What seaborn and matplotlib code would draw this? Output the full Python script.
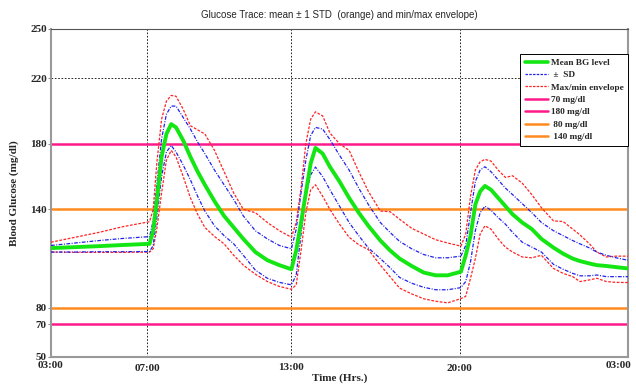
import numpy as np
import pandas as pd
import matplotlib
matplotlib.use("Agg")
import matplotlib.pyplot as plt
import seaborn as sns
from matplotlib.transforms import ScaledTranslation
from matplotlib.lines import Line2D

# ---- data ----
hours = [0, 1, 2, 3, 4.1, 4.25, 4.4, 4.6, 4.8, 5.0, 5.2, 5.5, 5.8, 6.1, 6.4, 6.8, 7.2, 7.6,
         8.0, 8.5, 9.0, 9.5, 10.0, 10.2, 10.4, 10.6, 10.8, 11.0, 11.3, 11.6, 12.0, 12.4,
         12.8, 13.2, 13.7, 14.1, 14.5, 15.0, 15.5, 16.0, 16.5, 17.05, 17.25, 17.45, 17.65,
         17.85, 18.05, 18.3, 18.6, 18.9, 19.2, 19.6, 20.0, 20.4, 20.9, 21.3, 21.7, 22.0,
         22.4, 22.7, 23.1, 23.5, 24]

mean_bg = [116.4, 117, 117.6, 118.3, 119, 127, 145, 172, 186, 192, 190, 182, 172, 163, 155,
           145, 136, 129, 122, 114, 109, 106, 103.5, 115, 132, 150, 168, 177.5, 174, 166,
           157, 147, 138, 130, 121, 115, 110, 105.5, 101.5, 99.8, 99.8, 102, 112, 124, 143,
           151, 154.3, 152, 147, 142, 137, 132, 128, 122, 116.7, 113, 110, 108.5, 107, 106,
           105.5, 104.8, 104]

sd_upper = [118, 119.5, 121, 122.3, 123.4, 133, 155, 183, 198, 203, 203, 196, 189, 181, 174,
            164, 155, 146, 136, 127, 122, 118, 116, 128, 150, 170, 185, 190, 189, 182.6,
            173, 164, 153, 143, 132, 126, 120.5, 116, 112.5, 110.5, 110.5, 111.5, 118, 138,
            157, 164, 166, 163, 158, 153, 149, 143.5, 138, 132, 127, 124, 121, 119, 116.5,
            114, 112, 110.5, 109]

sd_lower = [114, 114, 114.2, 114.2, 114.3, 118, 135, 160, 175, 179, 175, 167, 158, 148, 139,
            130, 124, 119, 112, 103, 98, 95.5, 94, 100, 125, 148, 161, 165.8, 160, 152, 142,
            132, 124, 116.5, 110, 104.5, 98.5, 95, 92.5, 91, 91, 92.3, 96, 108, 127, 138, 142,
            139.5, 135, 131, 126, 120, 117, 114, 106.5, 103.5, 101, 99.5, 99.5, 100, 99, 99, 99]

bg_max = [120, 123, 126, 129.5, 132.5, 140, 168, 195, 206, 209.5, 209, 201, 191, 188.5, 186,
          176, 163, 150, 140, 138, 132, 127, 123, 132, 153, 180, 195, 199.5, 197, 186.6, 180,
          176, 163, 151, 139, 138.6, 134, 128.5, 125, 121.5, 119.5, 117.6, 125, 148, 164,
          169, 170.5, 169.5, 164, 159.5, 160.5, 156, 149, 141, 133, 132.6, 128, 124.5, 119,
          114, 111, 111.5, 111.5]

bg_min = [114, 113.8, 113.8, 113.8, 114, 116, 128, 150, 170, 176, 172, 160, 147, 137, 129,
          123.5, 119, 112, 106, 100.5, 96, 93, 91.3, 94, 115, 138, 152, 155, 148, 140, 131,
          123, 118.5, 115.5, 106, 99, 92, 88.5, 85.5, 84, 83, 85.6, 87, 98, 110, 125, 130,
          128, 122, 117, 114, 111, 110.5, 112, 104, 101, 99, 96, 97, 98, 96, 95.5, 95.4]

thresholds = [70, 180, 80, 140]
threshold_labels = ["70 mg/dl", "180 mg/dl", " 80 mg/dl", " 140 mg/dl"]
yticks = [50, 70, 80, 140, 180, 220, 250]
xticks = [0, 4, 10, 17, 24]
xtick_labels = ["03:00", "07:00", "13:00", "20:00", "03:00"]

# ---- styling ----
sns.set_style("white")
serif = ["Liberation Serif", "DejaVu Serif"]
plt.rcParams["font.family"] = serif

GREEN = "#14e614"
BLUE = "#2222ee"
RED = "#ff2424"
PINK = "#ff1a8c"
ORANGE = "#ff8a1e"

fig = plt.figure(figsize=(6.36, 3.85), dpi=100)
ax = fig.add_axes([51 / 636, 1 - 357 / 385, 577 / 636, 328 / 385])

df = pd.DataFrame({"hours": hours, "mean": mean_bg, "sdu": sd_upper, "sdl": sd_lower,
                   "mx": bg_max, "mn": bg_min})

for col in ["mx", "mn"]:
    ln = sns.lineplot(data=df, x="hours", y=col, ax=ax, color=RED, lw=0.9, zorder=3).lines[-1]
    ln.set_dashes([2.2, 1.2])
for col in ["sdu", "sdl"]:
    ln = sns.lineplot(data=df, x="hours", y=col, ax=ax, color=BLUE, lw=0.9, zorder=3).lines[-1]
    ln.set_dashes([3, 1.2, 0.8, 1.2])
sns.lineplot(data=df, x="hours", y="mean", ax=ax, color=GREEN, lw=2.8, zorder=4)

thr_colors = [PINK, PINK, ORANGE, ORANGE]
for v, c in zip(thresholds, thr_colors):
    ax.axhline(v, color=c, lw=1.8, zorder=2)

ax.set_xlim(0, 24)
ax.set_ylim(50, 250)
ax.set_yticks(yticks)
ax.set_xticks(xticks)
ax.set_xticklabels(xtick_labels)
ax.grid(True, linestyle=(0, (2, 2)), color="black", lw=0.6, zorder=1)
ax.set_axisbelow(True)

for lab in ax.get_yticklabels() + ax.get_xticklabels():
    lab.set_fontweight("bold")
    lab.set_fontsize(8)
ax.tick_params(axis="both", which="both", length=2, width=0.6, color="#777777", pad=1,
               left=True, bottom=False)
offs = [(0, 0), (0, 3), (0, 1.5), (0, 3), (-9, 0)]
for lab, (dx, dy) in zip(ax.get_xticklabels(), offs):
    lab.set_transform(lab.get_transform() +
                      ScaledTranslation(dx / 100, -dy / 100, fig.dpi_scale_trans))

for s in ["left", "bottom", "right"]:
    ax.spines[s].set_color("#999999")
    ax.spines[s].set_linewidth(1.5)
ax.spines["top"].set_color("#555555")
ax.spines["top"].set_linewidth(0.8)

ax.set_xlabel("Time (Hrs.)", fontsize=8, fontweight="bold", labelpad=0)
ax.set_ylabel("Blood Glucose (mg/dl)", fontsize=8, fontweight="bold", labelpad=8)
ax.set_title("Glucose Trace: mean \u00b1 1 STD  (orange) and min/max envelope)",
             fontsize=7, family=["Liberation Sans Narrow", "Liberation Sans", "DejaVu Sans"],
             pad=8)

handles = [
    Line2D([], [], color=GREEN, lw=2.6),
    Line2D([], [], color=BLUE, lw=0.9, dashes=[2, 1]),
    Line2D([], [], color=RED, lw=0.9, dashes=[2, 1]),
    Line2D([], [], color=PINK, lw=1.8),
    Line2D([], [], color=PINK, lw=1.8),
    Line2D([], [], color=ORANGE, lw=1.8),
    Line2D([], [], color=ORANGE, lw=1.8),
]
labels = ["Mean BG level", " \u00b1  SD", "Max/min envelope"] + threshold_labels
leg = ax.legend(handles, labels, loc="upper left", bbox_to_anchor=(0.813, 0.925),
                prop={"family": serif, "weight": "bold", "size": 6.7},
                frameon=True, fancybox=False, framealpha=1, edgecolor="black",
                handlelength=2.5, handletextpad=0.3, labelspacing=0.42, borderpad=0.5,
                borderaxespad=0)
leg.get_frame().set_linewidth(0.7)
leg.set_zorder(10)

fig.savefig("out.png", dpi=100)
